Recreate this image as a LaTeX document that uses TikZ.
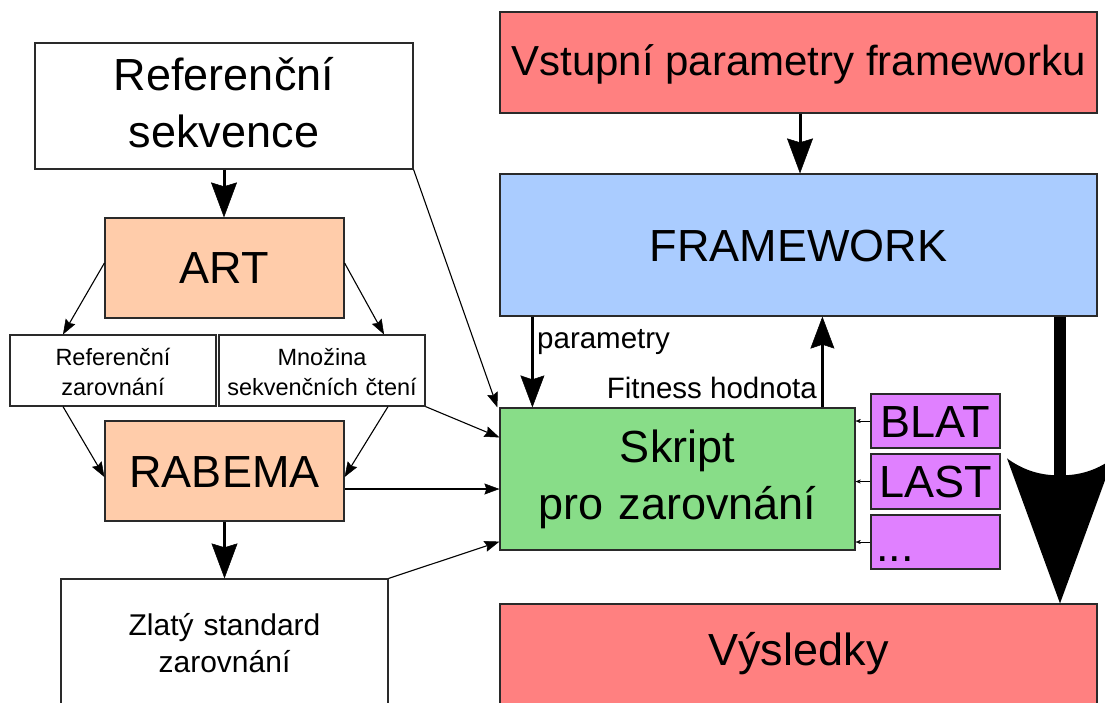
\documentclass[tikz,border=0pt]{standalone}
\usepackage{fontspec}
\setmainfont{Liberation Sans}
\usetikzlibrary{arrows.meta,calc}
\definecolor{peach}{HTML}{FFCCAA}
\definecolor{redbox}{HTML}{FF8080}
\definecolor{bluebox}{HTML}{AACCFF}
\definecolor{greenbox}{HTML}{88DD88}
\definecolor{purplebox}{HTML}{E080FF}
\definecolor{edge}{HTML}{2A2A2A}
\begin{document}
\begin{tikzpicture}[x=1pt,y=-1pt,
  box/.style={draw=edge, line width=1.2pt, inner xsep=0pt, inner ysep=0pt, anchor=center},
  bigfont/.style={font=\fontsize{45}{57}\selectfont},
  vsfont/.style={font=\fontsize{42}{50}\selectfont},
  smallfont/.style={font=\fontsize{23.5}{30}\selectfont},
  midfont/.style={font=\fontsize{30}{37}\selectfont},
  lblfont/.style={font=\fontsize{29.5}{36}\selectfont},
  thinarr/.style={line width=1.1pt, -{Stealth[length=15pt,width=11pt,inset=2pt,line width=0.5pt]}},
  medarr/.style={line width=3pt, -{Stealth[length=35pt,width=26pt,inset=4pt,line width=0.5pt]}},
  pararr/.style={line width=2.5pt, -{Stealth[length=32pt,width=24pt,inset=4pt,line width=0.5pt]}},
  tinyarr/.style={line width=1pt, -{Stealth[length=5pt,width=4pt,inset=1pt,line width=0.3pt]}},
  hugeshaft/.style={line width=12pt},
  hugehead/.style={fill=black}
]
\useasboundingbox (0,0) rectangle (1105,702);
\clip (0,0) rectangle (1105,702);

% left column
\node[box, fill=white, bigfont, text width=378pt, align=center,
      text height=47pt, text depth=79pt] (rs) at (224,106) {Referenční\\sekvence};
\node[box, fill=peach, bigfont, minimum width=239pt,
      text height=65pt, text depth=35pt] (art) at (224.5,268) {ART};
\node[box, fill=white, smallfont, text width=206pt, align=center,
      text height=30pt, text depth=41pt] (rz) at (113,370.5) {Referenční\\zarovnání};
\node[box, fill=white, smallfont, text width=206pt, align=center,
      text height=30pt, text depth=41pt] (mn) at (322,370.5) {Množina\\sekvenčních čtení};
\node[box, fill=peach, bigfont, minimum width=239pt,
      text height=66pt, text depth=34pt] (rab) at (224.5,471) {RABEMA};
\node[box, fill=white, midfont, text width=327pt, align=center,
      text height=56pt, text depth=95pt] (zs) at (224.5,654.5) {Zlatý standard\\zarovnání};

% right column
\node[box, fill=redbox, vsfont, minimum width=597pt,
      text height=63pt, text depth=38pt] (vs) at (798.5,62.5) {Vstupní parametry frameworku};
\node[box, fill=bluebox, bigfont, minimum width=597pt,
      text height=87pt, text depth=55pt] (fw) at (798.5,245) {FRAMEWORK};
\node[box, fill=greenbox, bigfont, text width=355pt, align=center,
      text height=54pt, text depth=88pt] (sk) at (677.5,479) {Skript\\pro zarovnání};
\node[box, fill=purplebox, bigfont, minimum width=129pt,
      text height=43pt, text depth=11pt] (blat) at (935.5,421) {BLAT};
\node[box, fill=purplebox, bigfont, minimum width=129pt,
      text height=43pt, text depth=12pt] (last) at (935.5,481.5) {LAST};
\node[box, fill=purplebox, bigfont, text width=119pt, inner xsep=5pt, align=left,
      text height=46pt, text depth=8pt] (dots) at (935.5,542) {...};
\node[box, fill=redbox, bigfont, minimum width=597pt,
      text height=61pt, text depth=65pt] (res) at (798.5,667) {Výsledky};

% labels
\node[lblfont, anchor=base west, inner sep=0pt] (lpar) at (537,348) {parametry};
\node[lblfont, anchor=base east, inner sep=0pt] (lfit) at (817,398) {Fitness hodnota};

\coordinate (bx) at (1060,0);
\coordinate (bt) at (res.north -| bx);

% connectors
\draw[medarr] (rs.south) -- (rs.south |- art.north);
\draw[thinarr] ($(art.west)+(0,-5)$) -- ($(rz.north)+(-50,0)$);
\draw[thinarr] ($(art.east)+(0,-5)$) -- ($(mn.north)+(62,0)$);
\draw[thinarr] ($(rz.south)+(-50,0)$) -- ($(rab.west)+(0,6)$);
\draw[thinarr] ($(mn.south)+(66,0)$) -- ($(rab.east)+(0,6)$);
\draw[thinarr] ($(rab.east)+(0,18)$) -- ($(sk.west)+(0,10)$);
\draw[medarr] (rab.south) -- (zs.north);
\draw[thinarr] (zs.north east) -- ($(sk.south west)+(0,-9)$);
\draw[thinarr] (mn.south east) -- ($(sk.north west)+(0,30)$);
\draw[thinarr] (rs.south east) -- ($(sk.north west)+(-2,0)$);
\draw[medarr] ($(vs.south)+(1.5,0)$) -- ($(fw.north)+(1.5,0)$);
\draw[pararr] ($(fw.south west)+(33,0)$) -- ($(sk.north west)+(33,0)$);
\draw[pararr] ($(sk.north west)+(323,0)$) -- ($(fw.south west)+(323,0)$);
\draw[tinyarr] (blat.west) -- (sk.east |- blat.west);
\draw[tinyarr] (last.west) -- (sk.east |- last.west);
\draw[tinyarr] (dots.west) -- (sk.east |- dots.west);
% huge arrow FRAMEWORK -> Vysledky
\draw[hugeshaft] (fw.south -| bx) -- ($(bt)+(0,-120)$);
\fill[hugehead] ($(bt)+(-53,-145)$)
  .. controls ($(bt)+(-35,-132)$) and ($(bt)+(-18,-128)$) .. ($(bt)+(0,-128)$)
  .. controls ($(bt)+(18,-128)$) and ($(bt)+(35,-132)$) .. ($(bt)+(53,-145)$)
  -- (bt) -- cycle;
\end{tikzpicture}
\end{document}
